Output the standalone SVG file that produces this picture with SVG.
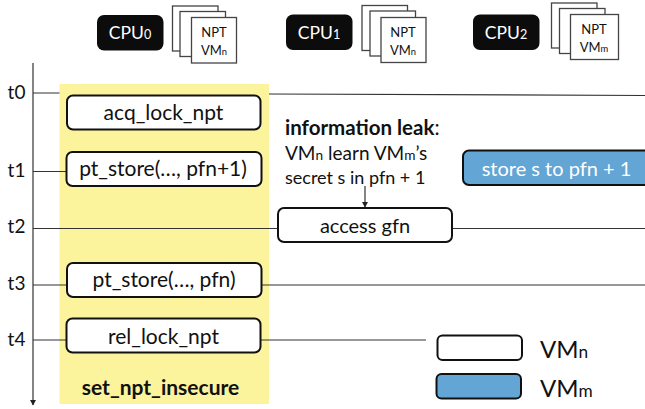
<svg xmlns="http://www.w3.org/2000/svg" width="645" height="409" viewBox="0 0 645 409">
<style>
text{font-family:Lato,"Liberation Sans",sans-serif;fill:#111}
.box{fill:#fff;stroke:#111;stroke-width:2}
.blue{fill:#63a5d4;stroke:#111;stroke-width:2}
.cpu{fill:#0c0c0c}
.page{fill:#fff;stroke:#444;stroke-width:1.3}
.line{stroke:#333;stroke-width:1.2;fill:none}
.lab{font-size:21px;text-anchor:middle}
.t{font-size:19px;text-anchor:middle}
.cpuT{font-size:17.500px;fill:#fff;text-anchor:middle}
.npt{font-size:13px;text-anchor:middle}
.s{font-size:.72em}
</style>
<defs>
<marker id="ah" markerWidth="6" markerHeight="6" refX="5" refY="3" orient="auto" markerUnits="userSpaceOnUse"><path d="M0 0L5.500 3L0 6Z" fill="#222"/></marker>
</defs>
<rect id="region" x="59.500" y="84" width="209.500" height="320" fill="#fcf39d"/>
<g id="connectors">
<path class="line" d="M33 63V405" marker-end="url(#ah)"/>
<path class="line" d="M33 93H59.500M269 94L645 95.500"/>
<path class="line" d="M33 171.500H66"/>
<path class="line" d="M33 228.500H278M452 228.500H645"/>
<path class="line" d="M33 285H67M261 285H645"/>
<path class="line" d="M33 340H66M260 340H426"/>
<path class="line" d="M365 186V207" marker-end="url(#ah)"/>
</g>
<g id="cpu0"><rect class="cpu" x="97" y="15" width="66.500" height="35.500" rx="7"/><text class="cpuT" x="130" y="39">CPU<tspan class="s">0</tspan></text></g>
<g id="npt0"><rect class="page" x="172.500" y="6" width="45.500" height="45"/><rect class="page" x="180" y="11.500" width="45.500" height="45"/><rect class="page" x="191.500" y="17.500" width="45" height="45.500"/><text class="npt" x="214" y="37">NPT</text><text class="npt" x="214" y="55">VM<tspan class="s">n</tspan></text></g>
<g id="cpu1"><rect class="cpu" x="286" y="14.500" width="66.500" height="35.500" rx="7"/><text class="cpuT" x="319" y="38.500">CPU<tspan class="s">1</tspan></text></g>
<g id="npt1"><rect class="page" x="362" y="5.500" width="45.500" height="45"/><rect class="page" x="370" y="11" width="45.500" height="45"/><rect class="page" x="381" y="17.500" width="45" height="45"/><text class="npt" x="403" y="37">NPT</text><text class="npt" x="403" y="55">VM<tspan class="s">n</tspan></text></g>
<g id="cpu2"><rect class="cpu" x="473" y="14.500" width="66.500" height="35.500" rx="7"/><text class="cpuT" x="506" y="39">CPU<tspan class="s">2</tspan></text></g>
<g id="npt2"><rect class="page" x="551.500" y="3" width="45.500" height="45"/><rect class="page" x="559.500" y="8.500" width="45.500" height="45"/><rect class="page" x="570.500" y="14.500" width="48" height="45"/><text class="npt" x="594" y="34">NPT</text><text class="npt" x="594" y="52">VM<tspan class="s">m</tspan></text></g>
<g id="t0"><text class="t" x="16.500" y="99">t0</text></g>
<g id="t1"><text class="t" x="16.500" y="177">t1</text></g>
<g id="t2"><text class="t" x="16.500" y="233">t2</text></g>
<g id="t3"><text class="t" x="16.500" y="290">t3</text></g>
<g id="t4"><text class="t" x="16.500" y="346">t4</text></g>
<g id="acq"><rect class="box" x="67" y="95.500" width="193.500" height="34" rx="6"/><text class="lab" x="163.500" y="120">acq_lock_npt</text></g>
<g id="store1"><rect class="box" x="66.500" y="152" width="195" height="34" rx="6"/><text class="lab" x="163" y="176">pt_store(…, pfn+1)</text></g>
<g id="store0"><rect class="box" x="67" y="263" width="194.500" height="34" rx="6"/><text class="lab" x="164" y="287">pt_store(…, pfn)</text></g>
<g id="rel"><rect class="box" x="66.500" y="318.500" width="194" height="34" rx="6"/><text class="lab" x="163.500" y="344">rel_lock_npt</text></g>
<text x="160.500" y="395" font-size="21" font-weight="700" text-anchor="middle">set_npt_insecure</text>
<g id="leak"><text x="285" y="135" font-size="20.500"><tspan font-weight="700">information leak</tspan>:</text><text x="285" y="160" font-size="19">VM<tspan class="s">n</tspan> learn VM<tspan class="s">m</tspan>’s</text><text x="285" y="184" font-size="18">secret s in pfn + 1</text></g>
<g id="access"><rect class="box" x="278" y="208" width="174" height="34" rx="6"/><text class="lab" x="365" y="233" style="font-size:20px">access gfn</text></g>
<g id="storeS"><rect class="blue" x="463" y="150.500" width="190" height="34.500" rx="6"/><text class="lab" x="556.500" y="176" style="fill:#fff;font-size:20px">store s to pfn + 1</text></g>
<g id="legendN"><rect class="box" x="437.500" y="335.500" width="84.500" height="24.500" rx="5"/><text x="540" y="358" font-size="24">VM<tspan class="s">n</tspan></text></g>
<g id="legendM"><rect class="blue" x="436.500" y="374" width="84.500" height="24.500" rx="5"/><text x="540" y="397" font-size="24">VM<tspan class="s">m</tspan></text></g>
</svg>
